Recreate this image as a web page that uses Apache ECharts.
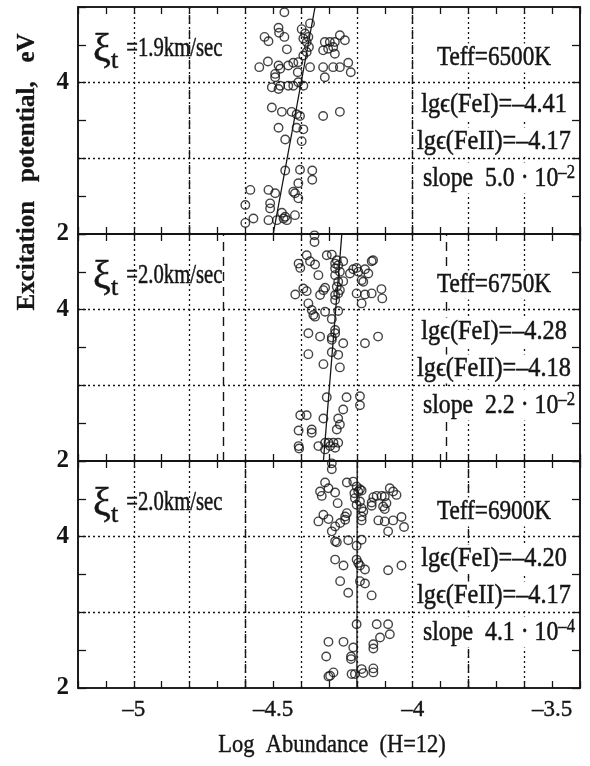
<!DOCTYPE html>
<html>
<head>
<meta charset="utf-8">
<script src="https://cdn.jsdelivr.net/npm/echarts@6/dist/echarts.min.js"></script>
<style>
  html, body { margin: 0; padding: 0; background: #fff; }
  #chart { width: 590px; height: 766px; }
</style>
</head>
<body>
<div id="chart"></div>
<script>
// Fe I abundance vs excitation potential for three model atmospheres
const xLabelValues = [-5, -4.5, -4, -3.5];
const yLabelValues = [2, 4];
const gridX = [-5, -4.8, -4.6, -4.4, -4.2, -4.0, -3.8, -3.6];
const gridY = [3, 4];

const turbulence = ['1.9', '2.0', '2.0'];
const teff = ['6500', '6750', '6900'];
const feI = ['4.41', '4.28', '4.20'];
const feII = ['4.17', '4.18', '4.17'];
const slopeMantissa = ['5.0', '2.2', '4.1'];
const slopeExponent = ['-2', '-2', '-4'];
const slopes = [5.0e-2, 2.2e-2, 4.1e-4];
const fitAtLowEp = [-4.50, -4.32, -4.20];   // fit abundance at 2 eV
const dashedX = [[-4.8, -4.0], [-4.68, -3.88], [-4.6, -3.8]];

// [log abundance, excitation potential (eV)]
const linesT6500 = [
  [-4.460, 4.93], [-4.481, 4.725], [-4.479, 4.66], [-4.531, 4.605], [-4.517, 4.547],
  [-4.460, 4.605], [-4.451, 4.44], [-4.368, 4.783], [-4.398, 4.707], [-4.386, 4.65],
  [-4.374, 4.605], [-4.392, 4.583], [-4.380, 4.538], [-4.372, 4.471], [-4.380, 4.405],
  [-4.392, 4.36], [-4.315, 4.538], [-4.297, 4.538], [-4.279, 4.538], [-4.261, 4.627],
  [-4.243, 4.56], [-4.285, 4.471], [-4.303, 4.449], [-4.321, 4.427], [-4.279, 4.383],
  [-4.550, 4.205], [-4.519, 4.28], [-4.481, 4.227], [-4.475, 4.183], [-4.493, 4.116],
  [-4.493, 4.071], [-4.446, 4.227], [-4.428, 4.263], [-4.410, 4.271], [-4.412, 4.138],
  [-4.368, 4.205], [-4.321, 4.205], [-4.315, 4.071], [-4.285, 4.205], [-4.261, 4.205],
  [-4.231, 4.263], [-4.222, 4.138], [-4.505, 3.938], [-4.481, 3.916], [-4.475, 3.96],
  [-4.446, 3.96], [-4.428, 3.96], [-4.392, 3.96], [-4.410, 4.005], [-4.505, 3.671],
  [-4.469, 3.614], [-4.434, 3.614], [-4.416, 3.583], [-4.404, 3.56], [-4.321, 3.56],
  [-4.261, 3.614], [-4.481, 3.405], [-4.416, 3.405], [-4.392, 3.383], [-4.457, 3.249],
  [-4.398, 3.227], [-4.457, 2.84], [-4.404, 2.849], [-4.360, 2.84], [-4.360, 2.716],
  [-4.410, 2.671], [-4.422, 2.538], [-4.582, 2.583], [-4.517, 2.583], [-4.493, 2.538],
  [-4.428, 2.56], [-4.600, 2.383], [-4.511, 2.405], [-4.511, 2.338], [-4.469, 2.28],
  [-4.457, 2.227], [-4.422, 2.249], [-4.600, 2.147], [-4.571, 2.205], [-4.517, 2.183],
  [-4.487, 2.183], [-4.463, 2.205], [-4.451, 2.183], [-4.410, 2.471]
];
const linesT6750 = [
  [-4.352, 4.982], [-4.352, 4.894], [-4.409, 4.609], [-4.403, 4.552], [-4.380, 4.719],
  [-4.368, 4.64], [-4.350, 4.596], [-4.338, 4.456], [-4.308, 4.719], [-4.290, 4.728],
  [-4.278, 4.609], [-4.272, 4.653], [-4.267, 4.587], [-4.261, 4.5], [-4.278, 4.456],
  [-4.249, 4.64], [-4.249, 4.377], [-4.267, 4.368], [-4.272, 4.302], [-4.278, 4.544],
  [-4.225, 4.478], [-4.213, 4.535], [-4.201, 4.552], [-4.195, 4.5], [-4.183, 4.39],
  [-4.171, 4.535], [-4.159, 4.478], [-4.147, 4.64], [-4.142, 4.653], [-4.177, 4.368],
  [-4.421, 4.201], [-4.392, 4.28], [-4.380, 4.245], [-4.332, 4.193], [-4.320, 4.258],
  [-4.314, 4.289], [-4.278, 4.193], [-4.267, 4.215], [-4.261, 4.258], [-4.278, 4.127],
  [-4.201, 4.215], [-4.171, 4.201], [-4.147, 4.215], [-4.183, 4.083], [-4.112, 4.272],
  [-4.109, 4.149], [-4.374, 4.083], [-4.362, 3.995], [-4.356, 3.93], [-4.350, 3.908],
  [-4.314, 3.973], [-4.290, 3.877], [-4.267, 3.982], [-4.374, 3.688], [-4.332, 3.644],
  [-4.290, 3.631], [-4.278, 3.688], [-4.249, 3.557], [-4.290, 3.601], [-4.171, 3.557],
  [-4.124, 3.644], [-4.374, 3.412], [-4.320, 3.28], [-4.290, 3.438], [-4.267, 3.403],
  [-4.261, 3.237], [-4.278, 3.732], [-4.308, 2.842], [-4.237, 2.842], [-4.189, 2.855],
  [-4.189, 2.737], [-4.249, 2.68], [-4.267, 2.561], [-4.261, 2.482], [-4.272, 2.416],
  [-4.403, 2.605], [-4.380, 2.605], [-4.320, 2.561], [-4.409, 2.403], [-4.362, 2.416],
  [-4.362, 2.373], [-4.409, 2.197], [-4.407, 2.166], [-4.338, 2.197], [-4.314, 2.241],
  [-4.302, 2.241], [-4.284, 2.241], [-4.267, 2.241], [-4.314, 2.153], [-4.296, 2.197],
  [-4.278, 2.175]
];
const linesT6900 = [
  [-4.290, 4.969], [-4.290, 4.89], [-4.314, 4.715], [-4.302, 4.64], [-4.278, 4.583],
  [-4.332, 4.596], [-4.326, 4.539], [-4.269, 4.443], [-4.236, 4.715], [-4.213, 4.728],
  [-4.201, 4.662], [-4.195, 4.596], [-4.189, 4.627], [-4.183, 4.609], [-4.209, 4.574],
  [-4.207, 4.509], [-4.189, 4.465], [-4.183, 4.377], [-4.177, 4.333], [-4.183, 4.267],
  [-4.183, 4.215], [-4.201, 4.421], [-4.141, 4.522], [-4.129, 4.539], [-4.111, 4.539],
  [-4.100, 4.531], [-4.082, 4.64], [-4.070, 4.596], [-4.058, 4.552], [-4.147, 4.452],
  [-4.147, 4.408], [-4.106, 4.399], [-4.100, 4.364], [-4.094, 4.443], [-4.338, 4.202],
  [-4.320, 4.289], [-4.302, 4.232], [-4.290, 4.07], [-4.278, 4.136], [-4.260, 4.18],
  [-4.242, 4.224], [-4.236, 4.311], [-4.242, 4.267], [-4.123, 4.215], [-4.100, 4.202],
  [-4.088, 4.07], [-4.070, 4.215], [-4.040, 4.259], [-4.031, 4.127], [-4.278, 3.938],
  [-4.272, 3.925], [-4.231, 3.952], [-4.201, 3.881], [-4.183, 3.96], [-4.278, 3.697],
  [-4.248, 3.618], [-4.201, 3.697], [-4.195, 3.653], [-4.189, 3.618], [-4.171, 3.566],
  [-4.088, 3.557], [-4.040, 3.618], [-4.260, 3.412], [-4.231, 3.259], [-4.189, 3.412],
  [-4.171, 3.381], [-4.147, 3.224], [-4.201, 2.842], [-4.129, 2.842], [-4.088, 2.842],
  [-4.082, 2.71], [-4.117, 2.667], [-4.141, 2.579], [-4.141, 2.522], [-4.213, 2.535],
  [-4.221, 2.417], [-4.221, 2.382], [-4.302, 2.61], [-4.248, 2.61], [-4.310, 2.417],
  [-4.302, 2.153], [-4.284, 2.206], [-4.296, 2.162], [-4.219, 2.184], [-4.207, 2.184],
  [-4.183, 2.25], [-4.177, 2.197], [-4.141, 2.259], [-4.141, 2.206]
];
const panels = [linesT6500, linesT6750, linesT6900];

const INK = '#151515';
const SERIF = '"Liberation Serif", "Times New Roman", serif';
const panelTop = [7, 234, 461];
const panelHeight = 227;
const X_MIN = -5.2, X_MAX = -3.4;

function isLabelled(v, list) {
  return list.some(t => Math.abs(t - v) < 1e-6);
}
function dashMinus(v) {
  return String(v).replace('-', '\u2013');
}

const grid = [], xAxis = [], yAxis = [], series = [], graphic = [];

// heavier strokes on the annotation text, like the printed figure
const inked = { fill: INK, stroke: INK, lineWidth: 0.5 };

panels.forEach((pts, i) => {
  grid.push({
    left: 78, right: 10, top: panelTop[i], height: panelHeight,
    show: true, borderColor: INK, borderWidth: 1.6, backgroundColor: 'transparent'
  });
  const xBase = {
    gridIndex: i, type: 'value', min: X_MIN, max: X_MAX, interval: 0.1,
    axisLine: { show: true, lineStyle: { color: INK, width: 1.6 } },
    axisTick: { show: true, inside: true, length: 7, lineStyle: { color: INK, width: 1.3 } },
    splitLine: { show: false }
  };
  xAxis.push(Object.assign({}, xBase, {
    position: 'bottom',
    axisLabel: {
      show: i === 2, margin: 10, color: INK, fontFamily: SERIF, fontSize: 23,
      textBorderColor: INK, textBorderWidth: 0.4,
      formatter: v => {
        const r = Math.round(v * 10) / 10;
        return isLabelled(r, xLabelValues) ? dashMinus(r) : '';
      }
    }
  }));
  xAxis.push(Object.assign({}, xBase, { position: 'top', axisLabel: { show: false } }));

  const yBase = {
    gridIndex: i, type: 'value', min: 2, max: 5, interval: 0.5,
    axisLine: { show: true, lineStyle: { color: INK, width: 1.6 } },
    axisTick: { show: true, inside: true, length: 8, lineStyle: { color: INK, width: 1.3 } },
    splitLine: { show: false }
  };
  yAxis.push(Object.assign({}, yBase, {
    position: 'left',
    axisLabel: {
      show: true, margin: 9, color: INK, fontFamily: SERIF, fontSize: 25, fontWeight: 'bold',
      padding: [8, 0, 0, 0],
      formatter: v => isLabelled(v, yLabelValues) ? String(v) : ''
    }
  }));
  yAxis.push(Object.assign({}, yBase, { position: 'right', axisLabel: { show: false } }));

  // measured lines with the dotted reference grid
  series.push({
    type: 'scatter', xAxisIndex: 2 * i, yAxisIndex: 2 * i, data: pts,
    symbol: 'circle', symbolSize: 8.5, z: 3,
    itemStyle: { color: 'rgba(255,255,255,0)', borderColor: INK, borderWidth: 1.4 },
    markLine: {
      silent: true, symbol: ['none', 'none'], label: { show: false }, animation: false,
      lineStyle: { color: INK, width: 1.3, type: [2, 3] },
      data: gridX.map(v => ({ xAxis: v })).concat(gridY.map(v => ({ yAxis: v })))
    }
  });

  // least-squares trend, drawn from the quoted slope
  series.push({
    type: 'line', xAxisIndex: 2 * i, yAxisIndex: 2 * i, z: 4,
    data: [[fitAtLowEp[i], 2], [fitAtLowEp[i] + slopes[i] * 3, 5]],
    showSymbol: false, lineStyle: { color: INK, width: 1.3 },
    markLine: {
      silent: true, symbol: ['none', 'none'], label: { show: false }, animation: false,
      lineStyle: { color: INK, width: 1.4, type: [9, 6] },
      data: dashedX[i].map(v => ({ xAxis: v }))
    }
  });

  const top = panelTop[i];
  const boxed = { backgroundColor: '#fff', padding: [1, 3] };

  // microturbulence label
  graphic.push({
    type: 'group', left: 90, top: top + 22, z: 20,
    children: [
      { type: 'text', x: 0, y: 0, style: Object.assign({ text: '\u03be', font: `40px ${SERIF}` }, inked, boxed) },
      { type: 'text', x: 21, y: 19, style: Object.assign({ text: 't', font: `26px ${SERIF}` }, inked) },
      { type: 'text', x: 34, y: 5, scaleX: 0.74,
        style: Object.assign({ text: '=' + turbulence[i] + 'km/sec', font: `28px ${SERIF}` }, inked, boxed) }
    ]
  });

  // model parameters on the right
  const cx = 494;
  const rows = [
    { y: top + 51, text: 'Teff=' + teff[i] + 'K', sx: 0.86 },
    { y: top + 98, text: 'lg\u03f5(FeI)=\u2013' + feI[i], sx: 0.9 },
    { y: top + 135, text: 'lg\u03f5(FeII)=\u2013' + feII[i], sx: 0.9 }
  ];
  rows.forEach(r => {
    graphic.push({
      type: 'text', x: cx, y: r.y, z: 20, scaleX: r.sx,
      style: Object.assign({
        text: r.text, font: `27px ${SERIF}`, align: 'center', verticalAlign: 'middle'
      }, inked, boxed)
    });
  });
  graphic.push({
    type: 'text', x: cx + 5, y: top + 171, z: 20, scaleX: 0.88,
    style: {
      text: '{a|slope  ' + slopeMantissa[i] + ' \u00b7 10}{s|' + slopeExponent[i].replace('-', '\u2013') + '}',
      align: 'center', verticalAlign: 'middle',
      backgroundColor: '#fff', padding: [1, 3], borderWidth: 0,
      rich: {
        a: { font: `27px ${SERIF}`, fill: INK, stroke: INK, lineWidth: 0.5, verticalAlign: 'bottom' },
        s: { font: `19px ${SERIF}`, fill: INK, stroke: INK, lineWidth: 0.4, verticalAlign: 'top', padding: [0, 0, 10, 0] }
      }
    }
  });
});

// axis titles
graphic.push({
  type: 'text', x: 28, y: 172, rotation: Math.PI / 2, z: 20,
  style: Object.assign({
    text: 'Excitation   potential,   eV', font: `bold 25px ${SERIF}`,
    align: 'center', verticalAlign: 'middle'
  }, inked, { lineWidth: 0.3 })
});
graphic.push({
  type: 'text', x: 332, y: 745, z: 20, scaleX: 0.9,
  style: Object.assign({
    text: 'Log  Abundance  (H=12)', font: `25px ${SERIF}`,
    align: 'center', verticalAlign: 'middle'
  }, inked, { lineWidth: 0.4 })
});

const chart = echarts.init(document.getElementById('chart'), null, { renderer: 'canvas' });
chart.setOption({
  backgroundColor: '#fff',
  animation: false,
  grid, xAxis, yAxis, series, graphic
});
</script>
</body>
</html>
